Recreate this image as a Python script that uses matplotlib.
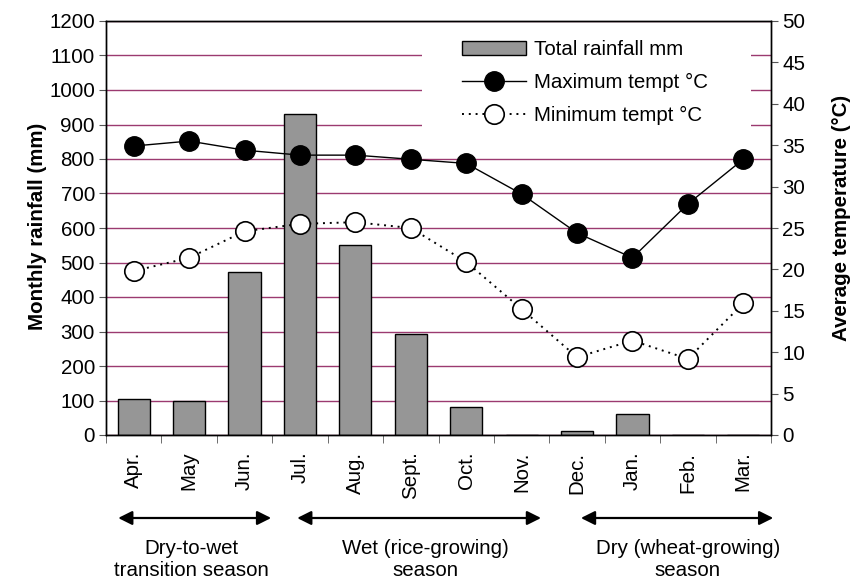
import numpy as np
import matplotlib
matplotlib.use("Agg")
import matplotlib.pyplot as plt
from matplotlib.patches import Patch, Rectangle
from matplotlib.lines import Line2D
import matplotlib.transforms as mtransforms

plt.rcParams["font.family"] = ["Liberation Sans", "DejaVu Sans"]

# data
months = ["Apr.", "May", "Jun.", "Jul.", "Aug.", "Sept.", "Oct.", "Nov.",
          "Dec.", "Jan.", "Feb.", "Mar."]
rainfall = [104, 99, 472, 930, 551, 293, 81, 0, 12, 62, 0, 0]
tmax = [34.9, 35.5, 34.4, 33.8, 33.8, 33.3, 32.8, 29.1, 24.4, 21.4, 27.9, 33.3]
tmin = [19.8, 21.4, 24.6, 25.5, 25.7, 25.0, 20.9, 15.2, 9.4, 11.4, 9.2, 15.9]

seasons = ["Dry-to-wet\ntransition season",
           "Wet (rice-growing)\nseason",
           "Dry (wheat-growing)\nseason"]

FS = 14.8
grid_col = "#9b3a70"

fig = plt.figure(figsize=(8.5, 5.8), dpi=100)
ax = fig.add_axes([106 / 850, 1 - 435 / 580, (771 - 106) / 850, (435 - 21) / 580])
ax2 = ax.twinx()

x = np.arange(len(months))

# -------------------------------
# rainfall bars (left axis)
# -------------------------------
ax.set_axisbelow(True)
ax.bar(x, rainfall, width=0.58, color="#969696", edgecolor="black",
       linewidth=1.0, zorder=2)
ax.set_xlim(-0.5, len(months) - 0.5)
ax.set_ylim(0, 1200)
ax.set_yticks(np.arange(0, 1201, 100))
ax.yaxis.grid(True, color=grid_col, linewidth=1.0)
ax.tick_params(axis="y", direction="out", length=5, color="#555555",
               labelsize=FS, pad=3)

ax.set_xticks(x)
ax.set_xticklabels(months, rotation=90, fontsize=FS)
ax.tick_params(axis="x", which="major", length=0, pad=12)
ax.set_xticks(np.arange(-0.5, len(months)), minor=True)
ax.tick_params(axis="x", which="minor", direction="out", length=6,
               color="#555555")

# white area behind legend hides the gridlines there
ax.add_patch(Rectangle(((422 - 106) / 665, (435 - 140) / 414),
                       (751 - 422) / 665, (140 - 28) / 414,
                       transform=ax.transAxes, facecolor="white",
                       edgecolor="none", zorder=1))

ax.set_ylabel("Monthly rainfall (mm)", fontsize=FS, fontweight="bold")
ax.yaxis.set_label_coords(-0.089, 0.505)

# -------------------------------
# temperatures (right axis)
# -------------------------------
ax2.plot(x, tmax, color="black", linewidth=1.0, marker="o",
         markersize=14, markerfacecolor="black", markeredgecolor="black")
ax2.plot(x, tmin, color="black", linewidth=1.4, linestyle=(0, (1, 2.5)),
         marker="o", markersize=14, markerfacecolor="white",
         markeredgecolor="black", markeredgewidth=1.2)
ax2.set_ylim(0, 50)
ax2.set_yticks(np.arange(0, 51, 5))
ax2.tick_params(axis="y", direction="out", length=5, color="#555555",
                labelsize=FS, pad=3)
ax2.set_ylabel("Average temperature (°C)", fontsize=FS, fontweight="bold")
ax2.yaxis.set_label_coords(1.092, 0.525)

for a in (ax, ax2):
    for s in a.spines.values():
        s.set_color("black")
        s.set_linewidth(1.0)

# legend
handles = [
    Patch(facecolor="#969696", edgecolor="black", linewidth=1.0),
    Line2D([], [], color="black", linewidth=1.0, marker="o", markersize=14,
           markerfacecolor="black"),
    Line2D([], [], color="black", linewidth=1.4, linestyle=(0, (1, 2.5)),
           marker="o", markersize=14, markerfacecolor="white",
           markeredgewidth=1.2),
]
labels = ["Total rainfall mm", "Maximum tempt °C", "Minimum tempt °C"]
ax2.legend(handles, labels, loc="upper left",
           bbox_to_anchor=(462 / 850, 1 - 40 / 580),
           bbox_transform=fig.transFigure, frameon=False, fontsize=FS,
           handlelength=3.1, handletextpad=0.4, labelspacing=0.68,
           borderpad=0, borderaxespad=0)

# -------------------------------
# season arrows and captions
# -------------------------------
trans = mtransforms.blended_transform_factory(ax.transData, fig.transFigure)
season_spans = [(-0.28, 2.48), (2.95, 7.35), (8.07, 11.54)]
season_mid = [1.05, 5.26, 10.0]
for (x0, x1), xm, txt in zip(season_spans, season_mid, seasons):
    ax.annotate("", xy=(x1, 1 - 518 / 580), xytext=(x0, 1 - 518 / 580),
                xycoords=trans, textcoords=trans, annotation_clip=False,
                arrowprops=dict(arrowstyle="<|-|>,head_length=0.6,head_width=0.3",
                                color="black", lw=1.6, shrinkA=0, shrinkB=0,
                                mutation_scale=14))
    fig.text(0, 0, txt, transform=trans, fontsize=FS, ha="center",
             va="center", linespacing=1.2).set_position((xm, 1 - 560 / 580))

fig.savefig("out.png", dpi=100)
